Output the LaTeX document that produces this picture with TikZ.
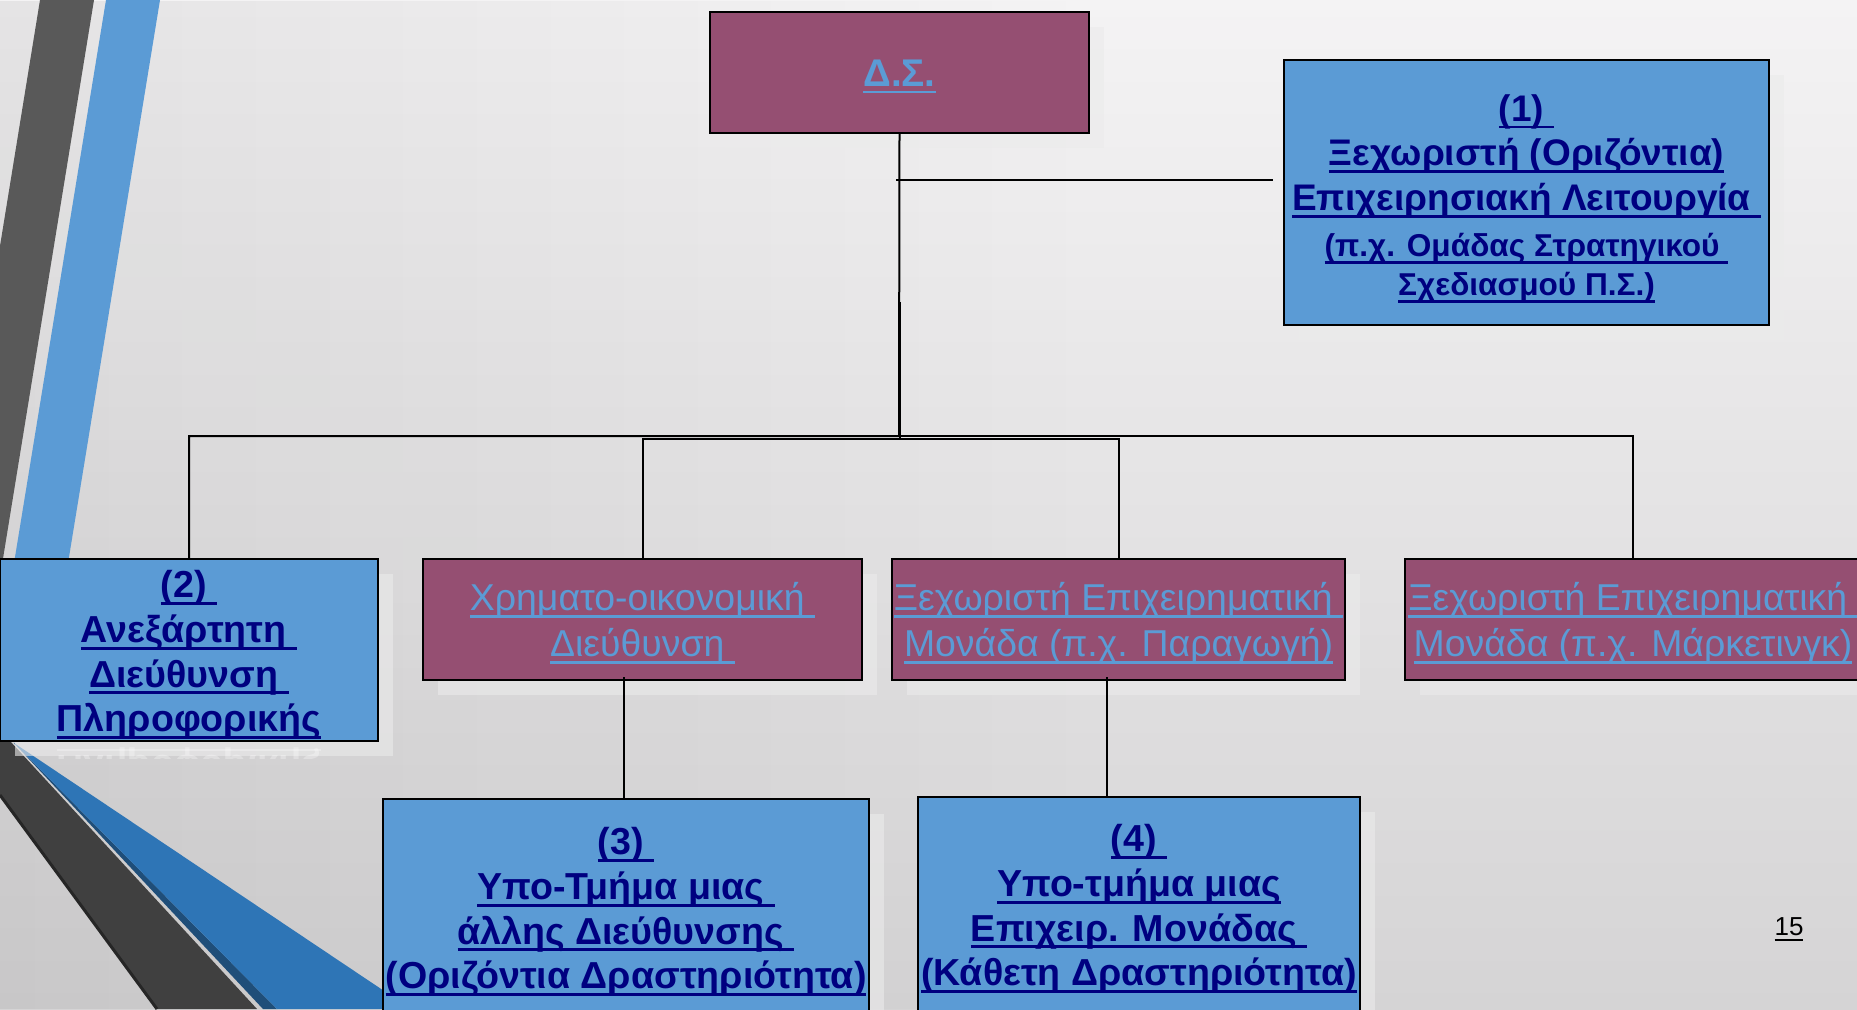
\documentclass[tikz,border=0pt]{standalone}
\usepackage{fontspec}
\setmainfont{Liberation Sans}
\usetikzlibrary{shadows,fadings}

\definecolor{boxblue}{HTML}{5B9BD5}
\definecolor{boxpurple}{HTML}{954F72}
\definecolor{navytext}{HTML}{000080}
\definecolor{linktext}{HTML}{5B9BD5}
\definecolor{bgtop}{HTML}{F4F3F4}
\definecolor{bgbot}{HTML}{D5D4D5}
\definecolor{stripegray}{HTML}{595959}
\definecolor{stripedark}{HTML}{404040}
\definecolor{stripeedge}{HTML}{262626}
\definecolor{stripeblue}{HTML}{2E75B6}
\definecolor{stripenavy}{HTML}{1F4E79}

% underlined label text: rule of fixed depth and weight under the box
\newlength{\uldepth}\setlength{\uldepth}{3.6pt}
\newlength{\ulweight}\setlength{\ulweight}{1.4pt}
\newsavebox{\ulbox}
\newcommand{\ul}[1]{\sbox{\ulbox}{#1}\rlap{\rule[-\uldepth]{\wd\ulbox}{\ulweight}}\usebox{\ulbox}}
\newcommand{\smallul}[1]{{\fontsize{15.8}{19}\selectfont\ul{#1}}}

\tikzset{
  boxbase/.style={draw=black, line width=1pt, inner sep=0pt, outer sep=0pt,
    drop shadow={shadow xshift=7.5pt, shadow yshift=-7.5pt, fill=black!8, opacity=0.6}},
  unitbox/.style={boxbase, fill=boxblue},
  deptbox/.style={boxbase, fill=boxpurple},
  unittext/.style={inner sep=0pt, align=center, text=navytext,
    font=\bfseries\fontsize{18.8}{22.3}\selectfont},
  depttext/.style={inner sep=0pt, align=center, text=linktext,
    font=\fontsize{18.7}{23}\selectfont},
  link/.style={draw=black, line width=1pt},
}

\begin{document}
\begin{tikzpicture}[x=0.5pt, y=-0.5pt]
\useasboundingbox (0,0) rectangle (1857,1009);

% slide background
\shade[top color=bgtop, bottom color=bgbot] (0,0) rectangle (1857,1009);
\fill[black, opacity=0.06, path fading=east] (0,0) rectangle (1100,1009);

% decorative bands, upper left
\fill[stripegray] (40,0) -- (94,0) -- (0,577) -- (0,246) -- cycle;
\fill[boxblue] (106,0) -- (160,0) -- (62,600) -- (8,600) -- cycle;

% decorative bands, lower left
\fill[stripedark] (0,741) -- (10,741) -- (257,1009) -- (157,1009) -- (0,795) -- cycle;
\draw[stripeedge, line width=1.5pt] (0,795) -- (157,1009);
\fill[stripenavy] (14,743) -- (277,1009) -- (263,1009) -- cycle;
\fill[stripeblue] (14,743) -- (411,1009) -- (277,1009) -- cycle;

% boxes
\node[deptbox, minimum width=189.5pt, minimum height=60.5pt] (ds) at (899.5,72.5) {};
\node[unitbox, minimum width=242.5pt, minimum height=132.5pt] (b1) at (1526.5,192.5) {};
\node[unitbox, minimum width=189pt, minimum height=91pt] (b2) at (189,650) {};
\node[deptbox, minimum width=219.5pt, minimum height=60.5pt] (fin) at (642.5,619.5) {};
\node[deptbox, minimum width=226.5pt, minimum height=60.5pt] (prod) at (1118.5,619.5) {};
\node[deptbox, minimum width=228pt, minimum height=60.5pt] (mkt) at (1633,619.5) {};
\node[unitbox, minimum width=243pt, minimum height=109pt] (b3) at (626,908) {};
\node[unitbox, minimum width=221pt, minimum height=108pt] (b4) at (1139,905) {};

% box labels
\node[depttext, font=\bfseries\fontsize{19.3}{22}\selectfont] (ds-t) at (899.5,76.5) {\ul{Δ.Σ.}};

\node[unittext, font=\bfseries\fontsize{18.5}{22.3}\selectfont] (b1-t) at (1526.5,198.5)
  {\ul{(1)\ }\\ \ul{Ξεχωριστή (Οριζόντια)}\\ \ul{Επιχειρησιακή Λειτουργία\ }\\[1pt]
   \smallul{(π.χ. Ομάδας Στρατηγικού\ }\\[-3pt] \smallul{Σχεδιασμού Π.Σ.)}};

\node[unittext] (b2-t) at (189,655)
  {\ul{(2)\ }\\ \ul{Ανεξάρτητη\ }\\ \ul{Διεύθυνση\ }\\ \ul{Πληροφορικής}};

\node[depttext] (fin-t) at (642.5,623.5)
  {\ul{Χρηματο-οικονομική\ }\\ \ul{Διεύθυνση\ }};

\node[depttext] (prod-t) at (1118.5,623.5)
  {\ul{Ξεχωριστή Επιχειρηματική\ }\\ \ul{Μονάδα (π.χ. Παραγωγή)}};

\node[depttext] (mkt-t) at (1633,623.5)
  {\ul{Ξεχωριστή Επιχειρηματική\ }\\ \ul{Μονάδα (π.χ. Μάρκετινγκ)}};

\node[unittext] (b3-t) at (626,912)
  {\ul{(3)\ }\\ \ul{Υπο-Τμήμα μιας\ }\\ \ul{άλλης Διεύθυνσης\ }\\ \ul{(Οριζόντια Δραστηριότητα)}};

\node[unittext] (b4-t) at (1139,909)
  {\ul{(4)\ }\\ \ul{Υπο-τμήμα μιας}\\ \ul{Επιχειρ. Μονάδας\ }\\ \ul{(Κάθετη Δραστηριότητα)}};

% faint reflection under box (2)
\begin{scope}
  \clip (14,742) rectangle (395,758);
  \begin{scope}[shift={(189,766)}, yscale=-1]
    \node[transform shape, text=white, opacity=0.3,
          font=\bfseries\fontsize{18.8}{22.3}\selectfont] (refl) at (0,0) {\ul{Πληροφορικής}};
  \end{scope}
\end{scope}

% connectors
\coordinate (b1tap) at (896,180);
\draw[link, shorten >=5.5pt] (b1tap) -- (b1tap -| b1.west);

\coordinate (busA) at (899,436);
\draw[link] (ds.south) -- (busA) -| (b2.north);
\draw[link] (busA) -| (mkt.north);

\coordinate (busBtop) at (899.6,302);
\coordinate (busB) at (899.6,439);
\draw[link] (busBtop) -- (busB) -| (fin.north);
\draw[link] (busB) -| (prod.north);

\coordinate (finout) at (624,677);
\draw[link] (finout) -- (finout |- b3.north);
\coordinate (prodout) at (1107,677);
\draw[link] (prodout) -- (prodout |- b4.north);

% slide number
\node[text=black, font=\fontsize{13}{15}\selectfont] (pg) at (1789,929)
  {\setlength{\ulweight}{0.6pt}\setlength{\uldepth}{2.6pt}\ul{15}};
\end{tikzpicture}
\end{document}
